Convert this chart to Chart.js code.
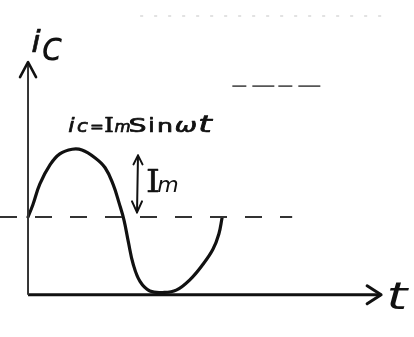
<!DOCTYPE html>
<html>
<head>
<meta charset="utf-8">
<script src="https://cdn.jsdelivr.net/npm/chart.js@4/dist/chart.umd.min.js"></script>
<style>
  html, body { margin: 0; padding: 0; background: #fff; }
  #wrap { width: 414px; height: 337px; }
</style>
</head>
<body>
<div id="wrap"><canvas id="wave" width="414" height="337"></canvas></div>
<script>
// --- capacitor current over one cycle: phase ωt in degrees, current in units of Im ---
const phaseDeg  = [0, 9, 22, 41, 59, 82, 100, 124, 143, 158, 169, 178, 186, 195, 208, 226, 250, 275, 301, 325, 343, 354, 360];
const currentIm = [0, 0.16, 0.43, 0.68, 0.82, 0.88, 0.87, 0.77, 0.64, 0.42, 0.18, -0.04, -0.32, -0.61, -0.84, -0.96, -0.98, -0.95, -0.81, -0.61, -0.42, -0.22, -0.01];

// axes: the t axis runs along the trough, the ic axis along ωt = 0
const tAxisPhase  = [0, 655];
const tAxisLevel  = -1.01;
const icAxisLevel = [-1.01, 2.01];

// dashed zero line
const zeroLinePhase = [-52, 490];

// amplitude marker (double arrow labelled Im)
const markerPhase   = 204;
const markerCurrent = [0.80, 0.06];

// faint pencil strokes in the upper area
const topStrokePhase = [208, 672];
const topStrokeLevel = 2.61;
const midStrokePhase = [379, 546];
const midStrokeLevel = 1.70;

// visible window
const phaseRange   = [-52, 716];
const currentRange = [-1.558, 2.818];

const toPts = (xs, ys) => xs.map((x, i) => ({ x: x, y: ys[i] }));
const flat = (xs, level) => xs.map(x => ({ x: x, y: level }));

const SANS = '"DejaVu Sans"';
const SERIF = '"DejaVu Serif"';

function arrowHead(ctx, tipX, tipY, dirX, dirY, len, half) {
    const bx = tipX - dirX * len, by = tipY - dirY * len;
    ctx.beginPath();
    ctx.moveTo(bx - dirY * half, by + dirX * half);
    ctx.lineTo(tipX, tipY);
    ctx.lineTo(bx + dirY * half, by - dirX * half);
    ctx.stroke();
}

// one glyph, centred on cx, optionally stretched sideways; weight thickens the pen line
function glyph(ctx, txt, cx, base, font, sx, weight) {
    ctx.save();
    ctx.font = font;
    ctx.translate(cx, base);
    ctx.scale(sx || 1, 1);
    ctx.fillText(txt, 0, 0);
    if (weight) {
        ctx.lineWidth = weight;
        ctx.strokeText(txt, 0, 0);
    }
    ctx.restore();
}

const sketchMarks = {
    id: 'sketchMarks',
    afterDatasetsDraw(chart) {
        const ctx = chart.ctx;
        const xs = chart.scales.x, ys = chart.scales.y;
        ctx.save();
        ctx.strokeStyle = '#111';
        ctx.fillStyle = '#111';
        ctx.lineCap = 'round';
        ctx.lineJoin = 'round';

        // arrow tips on both axes
        ctx.lineWidth = 2.6;
        arrowHead(ctx, xs.getPixelForValue(0), ys.getPixelForValue(icAxisLevel[1]), 0, -1, 15, 8);
        ctx.lineWidth = 3;
        arrowHead(ctx, xs.getPixelForValue(tAxisPhase[1]), ys.getPixelForValue(tAxisLevel), 1, 0, 14, 9);

        // double arrow for the amplitude
        const mx = xs.getPixelForValue(markerPhase);
        const mTop = ys.getPixelForValue(markerCurrent[0]);
        const mBot = ys.getPixelForValue(markerCurrent[1]);
        ctx.lineWidth = 2;
        ctx.beginPath();
        ctx.moveTo(mx, mTop);
        ctx.lineTo(mx - 1, mBot);
        ctx.stroke();
        arrowHead(ctx, mx, mTop, 0, -1, 9, 4.5);
        arrowHead(ctx, mx - 1, mBot, 0, 1, 11, 5);

        ctx.textAlign = 'center';
        ctx.textBaseline = 'alphabetic';

        // axis names
        glyph(ctx, 'i', 36, 52, 'italic 31px ' + SANS, 1.1, 0.6);
        glyph(ctx, 'c', 52, 60, 'italic 40px ' + SANS, 0.95);
        glyph(ctx, 't', 397, 309, 'italic 38px ' + SANS, 1.4);

        // ic = Im sin ωt
        const formula = [
            ['i', 71.5, 'italic 19px ' + SANS, 1.2],
            ['c', 82.5, 'italic 18px ' + SANS, 1.1],
            ['=', 97, '15px ' + SANS, 1.1],
            ['I', 109, '20px ' + SERIF, 1.2],
            ['m', 122.5, 'italic 15px ' + SANS, 1.1],
            ['S', 137.5, '19px ' + SANS, 1.5],
            ['i', 151.5, '19px ' + SANS, 1.2],
            ['n', 165, '18px ' + SANS, 1.4],
            ['ω', 186, 'italic 19px ' + SANS, 1.4],
            ['t', 205, 'italic 23px ' + SANS, 1.5]
        ];
        formula.forEach(([txt, cx, font, sx]) => glyph(ctx, txt, cx, 132, font, sx, 0.7));

        // Im beside the double arrow
        glyph(ctx, 'I', mx + 15, 192, '32px ' + SERIF, 1.1, 0.5);
        glyph(ctx, 'm', mx + 30, 192, 'italic 22px ' + SANS, 1);

        ctx.restore();
    }
};

const plain = { pointRadius: 0, pointHoverRadius: 0, fill: false };

new Chart(document.getElementById('wave'), {
    type: 'line',
    data: {
        datasets: [
            Object.assign({ label: 'top stroke', data: flat(topStrokePhase, topStrokeLevel),
                borderColor: 'rgba(60,60,60,0.3)', borderWidth: 1.2, borderDash: [3, 11] }, plain),
            Object.assign({ label: 'mid stroke', data: flat(midStrokePhase, midStrokeLevel),
                borderColor: 'rgba(30,30,30,0.75)', borderWidth: 1.6, borderDash: [14, 6, 22, 4] }, plain),
            Object.assign({ label: 'zero line', data: flat(zeroLinePhase, 0),
                borderColor: '#333', borderWidth: 1.8, borderDash: [17, 18] }, plain),
            Object.assign({ label: 'ic axis', data: toPts([0, 0], icAxisLevel),
                borderColor: '#333', borderWidth: 2 }, plain),
            Object.assign({ label: 't axis', data: flat(tAxisPhase, tAxisLevel),
                borderColor: '#111', borderWidth: 3 }, plain),
            Object.assign({ label: 'ic', data: toPts(phaseDeg, currentIm),
                borderColor: '#111', borderWidth: 3.2, tension: 0.4,
                borderCapStyle: 'round', borderJoinStyle: 'round' }, plain)
        ]
    },
    options: {
        responsive: false,
        devicePixelRatio: 1,
        animation: false,
        layout: { padding: 0 },
        plugins: { legend: { display: false }, tooltip: { enabled: false }, title: { display: false } },
        scales: {
            x: { type: 'linear', display: false, min: phaseRange[0], max: phaseRange[1] },
            y: { type: 'linear', display: false, min: currentRange[0], max: currentRange[1] }
        }
    },
    plugins: [sketchMarks]
});
</script>
</body>
</html>
